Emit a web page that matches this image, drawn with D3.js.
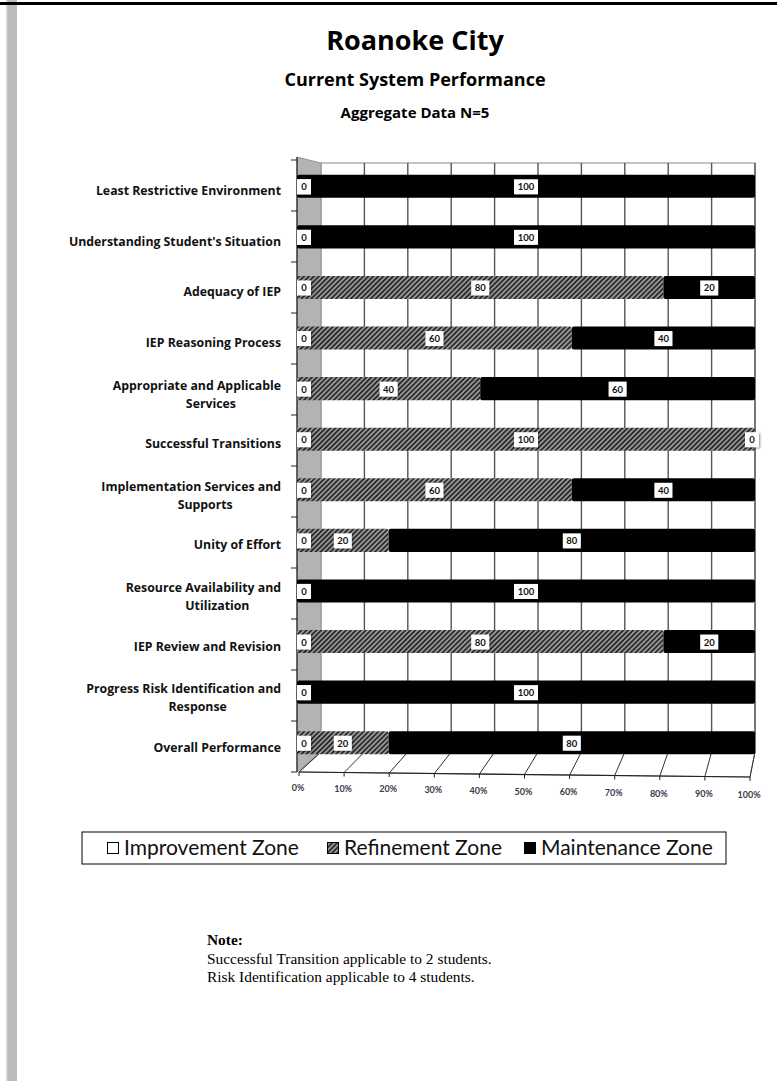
<!DOCTYPE html>
<html>
<head>
<meta charset="utf-8">
<script src="https://cdn.jsdelivr.net/npm/d3@7"></script>
<style>
  body { margin: 0; background: #fff; }
  svg { display: block; }
</style>
</head>
<body>
<svg id="chart"></svg>
<script>
const width = 777;
const height = 1081;

// chart data
const categories = [
    ["Least Restrictive Environment"],
    ["Understanding Student's Situation"],
    ["Adequacy of IEP"],
    ["IEP Reasoning Process"],
    ["Appropriate and Applicable", "Services"],
    ["Successful Transitions"],
    ["Implementation Services and", "Supports"],
    ["Unity of Effort"],
    ["Resource Availability and", "Utilization"],
    ["IEP Review and Revision"],
    ["Progress Risk Identification and", "Response"],
    ["Overall Performance"]
];
const improvement = [0, 0, 0, 0, 0, 0, 0, 0, 0, 0, 0, 0];
const refinement  = [0, 0, 80, 60, 40, 100, 60, 20, 0, 80, 0, 20];
const maintenance = [100, 100, 20, 40, 60, 0, 40, 80, 100, 20, 100, 80];
const seriesNames = ["Improvement Zone", "Refinement Zone", "Maintenance Zone"];
const ticks = [0, 10, 20, 30, 40, 50, 60, 70, 80, 90, 100];
const notes = ["Successful Transition applicable to 2 students.",
               "Risk Identification applicable to 4 students."];

const svg = d3.select("#chart")
    .attr("width", width)
    .attr("height", height);

const defs = svg.append("defs");
const hatch = defs.append("pattern")
    .attr("id", "hatch")
    .attr("patternUnits", "userSpaceOnUse")
    .attr("width", 3.5)
    .attr("height", 3.5)
    .attr("patternTransform", "rotate(45)");
hatch.append("rect").attr("width", 3.5).attr("height", 3.5).attr("fill", "#9a9a9a");
hatch.append("rect").attr("width", 1.8).attr("height", 3.5).attr("fill", "#2b2b2b");

const shadow = defs.append("filter").attr("id", "shadow")
    .attr("x", "-30%").attr("y", "-30%").attr("width", "160%").attr("height", "160%");
shadow.append("feDropShadow")
    .attr("dx", 1).attr("dy", 1).attr("stdDeviation", 0.8)
    .attr("flood-color", "#000").attr("flood-opacity", 0.45);

// page frame
svg.append("rect").attr("x", 6).attr("y", 0).attr("width", 11).attr("height", height).attr("fill", "#bcbcbc");
svg.append("rect").attr("x", 6).attr("y", 0).attr("width", 1.5).attr("height", height).attr("fill", "#dadada");
svg.append("rect").attr("x", 0).attr("y", 2).attr("width", width).attr("height", 3).attr("fill", "#000");

// titles
svg.append("text").attr("x", 415).attr("y", 50)
    .attr("text-anchor", "middle")
    .style("font", "bold 27px 'Open Sans', sans-serif")
    .text("Roanoke City");
svg.append("text").attr("x", 415).attr("y", 86)
    .attr("text-anchor", "middle")
    .style("font", "bold 18px 'Open Sans', sans-serif")
    .text("Current System Performance");
svg.append("text").attr("x", 415).attr("y", 118)
    .attr("text-anchor", "middle")
    .style("font", "bold 15px 'Open Sans', sans-serif")
    .text("Aggregate Data N=5");

// 3d box geometry
const backX = d3.scaleLinear().domain([0, 100]).range([321, 755]);
const frontX = d3.scaleLinear().domain([0, 100]).range([299, 750]);
const frontY = d3.scaleLinear().domain([0, 100]).range([772, 777]);
const barX = d3.scaleLinear().domain([0, 100]).range([297, 755]);
const y = d3.scaleBand().domain(d3.range(categories.length)).range([161, 768])
    .paddingInner(0.545).paddingOuter(0.2725);

const backTop = 163, backBottom = 752;

// back wall
svg.append("rect")
    .attr("x", backX(0)).attr("y", backTop)
    .attr("width", backX(100) - backX(0)).attr("height", backBottom - backTop)
    .attr("fill", "#fff").attr("stroke", "#8a8a8a");

// left wall
svg.append("polygon")
    .attr("points", [[297, 157], [321, backTop], [321, backBottom], [297, 772]].join(" "))
    .attr("fill", "#b3b3b3").attr("stroke", "#888").attr("stroke-width", 0.8);

// floor
svg.append("polygon")
    .attr("points", [[backX(0), backBottom], [backX(100), backBottom], [frontX(100), frontY(100)], [frontX(0), frontY(0)]].join(" "))
    .attr("fill", "#fff").attr("stroke", "#777");

// gridlines on back wall and floor
svg.append("g").selectAll("line.wall")
    .data(ticks.slice(1))
    .enter().append("line")
    .attr("x1", d => backX(d)).attr("x2", d => backX(d))
    .attr("y1", backTop).attr("y2", backBottom)
    .attr("stroke", "#555").attr("stroke-width", 1.4);

svg.append("g").selectAll("line.floor")
    .data(ticks)
    .enter().append("line")
    .attr("x1", d => backX(d)).attr("y1", backBottom)
    .attr("x2", d => frontX(d)).attr("y2", d => frontY(d))
    .attr("stroke", "#333").attr("stroke-width", 1);

// front axis
svg.append("line")
    .attr("x1", frontX(0)).attr("y1", frontY(0))
    .attr("x2", frontX(100)).attr("y2", frontY(100))
    .attr("stroke", "#222").attr("stroke-width", 1.2);
svg.append("g").selectAll("line")
    .data(ticks)
    .enter().append("line")
    .attr("x1", d => frontX(d)).attr("x2", d => frontX(d))
    .attr("y1", d => frontY(d)).attr("y2", d => frontY(d) + 4)
    .attr("stroke", "#222");
svg.append("g").selectAll("text")
    .data(ticks)
    .enter().append("text")
    .attr("x", d => frontX(d) - 1)
    .attr("y", d => frontY(d) + 19 + d * 0.02)
    .attr("text-anchor", "middle")
    .attr("fill", "#3a3a4a")
    .style("font", "bold 9px Lato, sans-serif")
    .text(d => d + "%");

// left axis
svg.append("line")
    .attr("x1", 297).attr("x2", 297).attr("y1", 157).attr("y2", 772)
    .attr("stroke", "#222").attr("stroke-width", 1.2);
svg.append("g").selectAll("line")
    .data(d3.range(categories.length + 1))
    .enter().append("line")
    .attr("x1", 291).attr("x2", 297)
    .attr("y1", i => 160 + i * 51).attr("y2", i => 160 + i * 51)
    .attr("stroke", "#222");

// stacked bars
const stacked = d3.stack().keys([0, 1, 2])
    .value((d, k) => [improvement, refinement, maintenance][k][d])(d3.range(categories.length));
const fills = ["#fff", "url(#hatch)", "#000"];

const barG = svg.append("g");
stacked.forEach((layer, k) => {
    barG.selectAll(null)
        .data(layer.map((p, i) => ({ i: i, x0: p[0], x1: p[1] })))
        .enter().append("rect")
        .attr("x", d => barX(d.x0))
        .attr("y", d => y(d.i))
        .attr("width", d => barX(d.x1) - barX(d.x0))
        .attr("height", y.bandwidth())
        .attr("rx", 2)
        .attr("fill", fills[k]);
});

// data labels
const labelG = svg.append("g");
stacked.forEach((layer, k) => {
    const g = labelG.selectAll(null)
        .data(layer.map((p, i) => ({ i: i, x0: p[0], x1: p[1], v: p[1] - p[0] })))
        .enter().append("g")
        .attr("transform", d => {
            let cx = barX((d.x0 + d.x1) / 2);
            if (d.v === 0) cx = d.x0 >= 100 ? barX(100) - 3 : barX(0) + 7;
            return `translate(${cx},${y(d.i) + y.bandwidth() / 2})`;
        });
    g.append("rect")
        .attr("x", d => d.v === 100 ? -12 : (d.v === 0 ? -7 : -9))
        .attr("y", -7)
        .attr("width", d => d.v === 100 ? 24 : (d.v === 0 ? 14 : 18))
        .attr("height", 15)
        .attr("fill", "#fff")
        .attr("filter", "url(#shadow)");
    g.append("text")
        .attr("y", 4)
        .attr("text-anchor", "middle")
        .attr("fill", "#111")
        .style("font", "bold 9.5px Lato, sans-serif")
        .text(d => d.v);
});

// category labels
const catFont = "bold 12.3px 'Open Sans', sans-serif";
const catG = svg.append("g");
categories.forEach((lines, i) => {
    const cy = y(i) + y.bandwidth() / 2 + 5;
    if (lines.length === 1) {
        catG.append("text")
            .attr("x", 281).attr("y", cy + 4)
            .attr("text-anchor", "end")
            .style("font", catFont)
            .attr("fill", "#111")
            .text(lines[0]);
    } else {
        const t1 = catG.append("text")
            .attr("x", 281).attr("y", cy - 4)
            .attr("text-anchor", "end")
            .style("font", catFont)
            .attr("fill", "#111")
            .text(lines[0]);
        const w = t1.node().getComputedTextLength();
        catG.append("text")
            .attr("x", 281 - w / 2 + 14).attr("y", cy + 14)
            .attr("text-anchor", "middle")
            .style("font", catFont)
            .attr("fill", "#111")
            .text(lines[1]);
    }
});

// legend
svg.append("rect")
    .attr("x", 82).attr("y", 832).attr("width", 644).attr("height", 32)
    .attr("fill", "#fff").attr("stroke", "#000");
const legendX = [107, 327, 524];
const legend = svg.append("g").selectAll("g")
    .data(seriesNames)
    .enter().append("g")
    .attr("transform", (d, i) => `translate(${legendX[i]},842)`);
legend.append("rect")
    .attr("x", 0.5).attr("y", 0.5).attr("width", 11).attr("height", 11)
    .attr("fill", (d, i) => fills[i])
    .attr("stroke", "#000");
legend.append("text")
    .attr("x", 17).attr("y", 13)
    .style("font", "21px Lato, sans-serif")
    .attr("fill", "#111")
    .text(d => d);

// note
svg.append("text").attr("x", 207).attr("y", 945)
    .style("font", "bold 15.4px 'Liberation Serif', serif")
    .text("Note:");
svg.append("g").selectAll("text")
    .data(notes)
    .enter().append("text")
    .attr("x", 207).attr("y", (d, i) => 964 + i * 18)
    .style("font", "15.4px 'Liberation Serif', serif")
    .text(d => d);
</script>
</body>
</html>
